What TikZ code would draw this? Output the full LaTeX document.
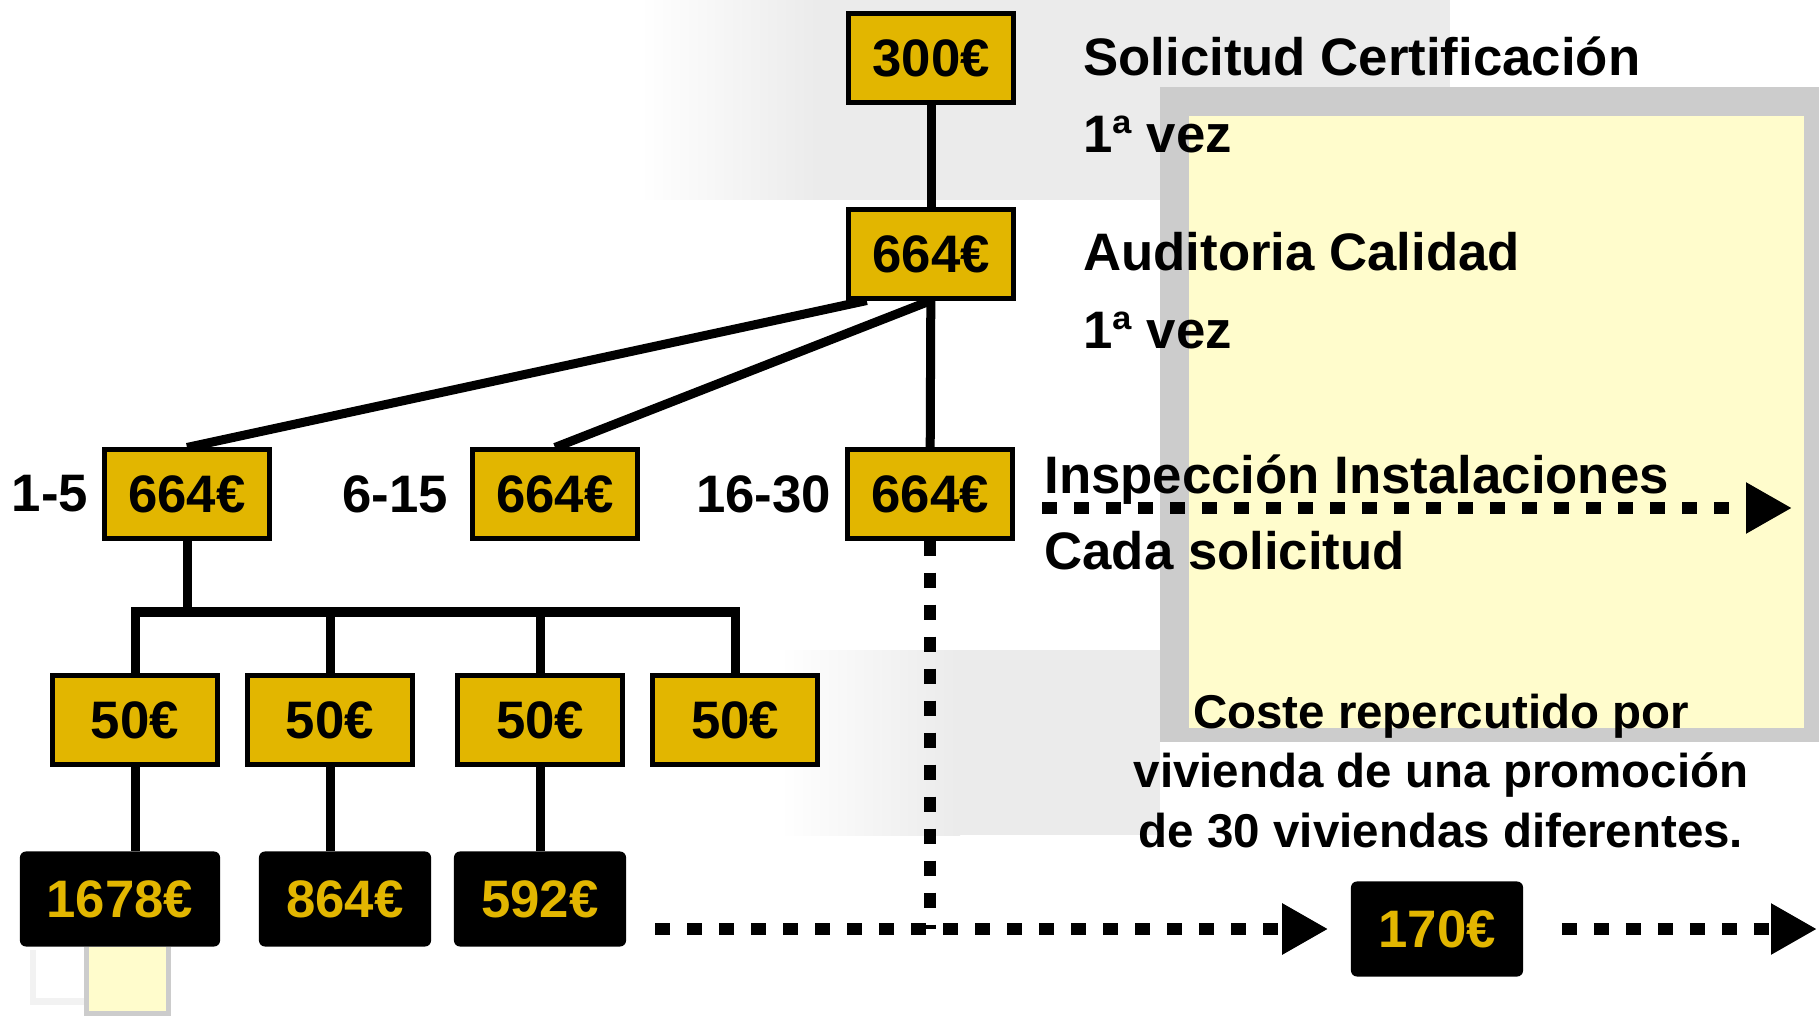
\documentclass[tikz,border=0pt]{standalone}
\usepackage{fontspec}
\setmainfont{Liberation Sans}
\usepackage{tikz}
\usetikzlibrary{arrows.meta, calc, positioning}
\definecolor{gold}{RGB}{226, 182, 0}
\definecolor{paleyellow}{RGB}{255, 252, 204}
\definecolor{shadowgray}{RGB}{204, 204, 204}

\begin{document}
\begin{tikzpicture}[x=0.01cm, y=-0.01cm,
	font=\fontsize{15}{18}\selectfont\bfseries,
	costbox/.style={draw=black, fill=gold, line width=0.05cm, minimum width=1.64cm, minimum height=0.88cm, inner sep=0pt},
	totalbox/.style={fill=black, text=gold, rounded corners=0.06cm, minimum width=1.72cm, minimum height=0.95cm, inner sep=0pt},
	conn/.style={line width=0.09cm},
	dots/.style={line width=0.12cm, dash pattern=on 0.15cm off 0.17cm},
	dotarrow/.style={dots, -{Triangle[length=0.46cm, width=0.48cm]}}]
	\useasboundingbox (0,0) rectangle (1819,1016);
	% background shadows and notes
	\shade[left color=white, right color=black!8] (640,0) rectangle (820,200);
	\fill[black!8] (819,0) rectangle (1450,200);
	\shade[left color=white, right color=black!8] (780,650) rectangle (960,835);
	\fill[black!8] (959,650) rectangle (1160,835);
	\fill[shadowgray] (1160,87) rectangle (1819,742);
	\fill[paleyellow] (1189,116) rectangle (1804,728);
	\fill[black!5] (30,950) rectangle (84,1005);
	\fill[white] (36,950) rectangle (84,998);
	\fill[shadowgray] (84,947) rectangle (171,1016);
	\fill[paleyellow] (89,947) rectangle (166,1011);

	% cost tree
	\node[costbox] (request) at (931,58) {300€};
	\node[costbox] (audit) at (931,254) {664€};
	\node[costbox] (insp1) at (187,494) {664€};
	\node[costbox] (insp2) at (555,494) {664€};
	\node[costbox] (insp3) at (930,494) {664€};
	\node[left=0.02cm of insp1] (lab1) {1-5};
	\node[left=0.1cm of insp2] (lab2) {6-15};
	\node[left=0.02cm of insp3] (lab3) {16-30};

	\node[costbox] (v1) at (135,720) {50€};
	\node[costbox] (v2) at (330,720) {50€};
	\node[costbox] (v3) at (540,720) {50€};
	\node[costbox] (v4) at (735,720) {50€};

	\node[totalbox, minimum width=2.0cm] (total1) at (120,899) {1678€};
	\node[totalbox] (total2) at (345,899) {864€};
	\node[totalbox] (total3) at (540,899) {592€};
	\node[totalbox] (final) at (1437,929) {170€};

	\draw[conn] (request) -- (audit);
	\draw[conn] ($(audit.south west)!0.12!(audit.south east)$) -- (insp1.north);
	\draw[conn] (audit.south) -- (insp2.north);
	\draw[conn] (audit) -- (insp3);

	\coordinate (bus) at (187,612);
	\draw[conn] (insp1.south) -- (bus);
	\draw[conn] (v1.north) -- (v1.north |- bus) -- (v4.north |- bus) -- (v4.north);
	\draw[conn] (v2.north) -- (v2.north |- bus);
	\draw[conn] (v3.north) -- (v3.north |- bus);

	\draw[conn] (v1) -- (v1 |- total1.north);
	\draw[conn] (v2) -- (v2 |- total2.north);
	\draw[conn] (v3) -- (total3);

	% dotted flows
	\coordinate (flowL) at (655,929);
	\coordinate (inspL) at (1042,508);
	\coordinate (inspR) at (1792,508);
	\coordinate (endR) at (1817,929);
	\draw[dots] (insp3.south) -- (insp3.south |- flowL);
	\draw[dotarrow] (flowL) -- ([xshift=-0.22cm]final.west);
	\draw[dotarrow] ([xshift=0.38cm]final.east) -- (endR);
	\draw[dotarrow] (inspL) -- (inspR);

	% texts
	\node[anchor=west] (t1) at (1071,56) {Solicitud Certificación};
	\node[anchor=west] (t2) at (1071,134) {1ª vez};
	\node[anchor=west] (t3) at (1071,252) {Auditoria Calidad};
	\node[anchor=west] (t4) at (1071,330) {1ª vez};
	\node[anchor=west] (t5) at (1032,480) {Inspección Instalaciones};
	\node[anchor=west] (t6) at (1032,551) {Cada solicitud};
	\node[align=center, font=\fontsize{13.5}{17}\selectfont\bfseries] (note) at (1441,771)
		{Coste repercutido por\\vivienda de una promoción\\de 30 viviendas diferentes.};
\end{tikzpicture}
\end{document}
